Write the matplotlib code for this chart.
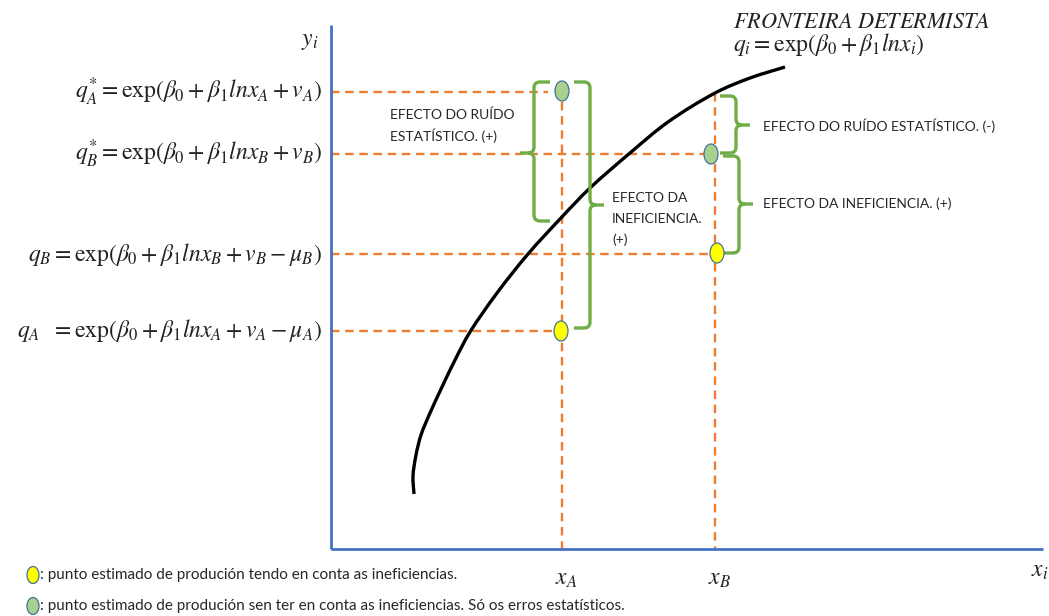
import math
import matplotlib
matplotlib.use('Agg')
import matplotlib.pyplot as plt
from matplotlib.patches import Ellipse, PathPatch
from matplotlib.path import Path

plt.rcParams['mathtext.fontset'] = 'stix'

W, H = 1049, 616

# Frontier curve (pixel coordinates, y downwards)
frontier_x = [414, 413, 416, 421, 430, 442, 455, 470, 497, 528, 560, 590, 630, 668, 715, 750, 785]
frontier_y = [494, 476, 455, 435, 413, 387, 360, 332, 293, 254, 219, 188, 153, 122, 93, 78, 67]

# Axes
origin_x, origin_y = 331, 549
axis_top, axis_right = 25, 1043

# Output levels (y) and their labels
level_labels = [r'$q_A^{*} = \exp(\beta_0 + \beta_1 lnx_A + v_A)$',
                r'$q_B^{*} = \exp(\beta_0 + \beta_1 lnx_B + v_B)$',
                r'$q_B = \exp(\beta_0 + \beta_1 lnx_B + v_B - \mu_B)$',
                r'$q_A\ \ = \exp(\beta_0 + \beta_1 lnx_A + v_A - \mu_A)$']
level_y = [92, 154, 254, 331]
level_line_end = [548, 704, 710, 554]

# Input positions
x_labels = [r'$x_A$', r'$x_B$']
x_pos = [562, 715]
x_line_top = [102, 93]

# Estimated points
green_x = [562, 711]
green_y = [91, 154]
yellow_x = [561, 717]
yellow_y = [331, 253]

# Braces: (x of spine, y top, y bottom, arm direction, tip y)
brace_x = [534, 590, 736, 739]
brace_top = [82, 82, 96, 156]
brace_bot = [221, 328, 153, 253]
brace_dir = [1, -1, -1, -1]
brace_tip = [153, 205, 125, 204]

# Brace annotations
brace_text = ['EFECTO DO RUÍDO\nESTATÍSTICO. (+)', 'EFECTO DA\nINEFICIENCIA.\n(+)',
              'EFECTO DO RUÍDO ESTATÍSTICO. (-)', 'EFECTO DA INEFICIENCIA. (+)']
brace_text_x = [390, 612, 763, 763]
brace_text_y = [115, 198, 126, 204]   # centre of first line

legend_texts = [': punto estimado de produción tendo en conta as ineficiencias.',
                ': punto estimado de produción sen ter en conta as ineficiencias. Só os erros estatísticos.']

ORANGE = '#ED7D31'
BLUE = '#4472C4'
GREEN = '#70AD47'
EDGE = '#41719C'
TXT = '#222222'

fig = plt.figure(figsize=(W / 100, H / 100), dpi=100)
ax = fig.add_axes([0, 0, 1, 1])
ax.set_xlim(0, W)
ax.set_ylim(H, 0)
ax.axis('off')

# axes lines
ax.plot([origin_x, origin_x], [axis_top, origin_y], color=BLUE, lw=2.0, solid_capstyle='butt', zorder=3)
ax.plot([origin_x, axis_right], [origin_y, origin_y], color=BLUE, lw=2.0, solid_capstyle='butt', zorder=3)

dash = (3.6, 2.4)
for y, xe in zip(level_y, level_line_end):
    ax.plot([origin_x, xe], [y, y], color=ORANGE, lw=1.7, dashes=dash, zorder=2)
for x, yt in zip(x_pos, x_line_top):
    ax.plot([x, x], [yt, origin_y], color=ORANGE, lw=1.7, dashes=dash, zorder=2)


# frontier drawn as a smooth Bezier path through the read points
def smooth_path(xs, ys):
    pts = list(zip(xs, ys))
    n = len(pts)

    def unit(a, b):
        dx, dy = b[0] - a[0], b[1] - a[1]
        L = math.hypot(dx, dy)
        return (dx / L, dy / L)

    tang = []
    for i in range(n):
        a = pts[i - 1] if i > 0 else pts[i]
        b = pts[i + 1] if i < n - 1 else pts[i]
        tang.append(unit(a, b))
    verts = [pts[0]]
    codes = [Path.MOVETO]
    for i in range(n - 1):
        p1, p2 = pts[i], pts[i + 1]
        d = math.hypot(p2[0] - p1[0], p2[1] - p1[1]) / 3
        c1 = (p1[0] + tang[i][0] * d, p1[1] + tang[i][1] * d)
        c2 = (p2[0] - tang[i + 1][0] * d, p2[1] - tang[i + 1][1] * d)
        verts += [c1, c2, p2]
        codes += [Path.CURVE4] * 3
    return Path(verts, codes)


ax.add_patch(PathPatch(smooth_path(frontier_x, frontier_y), fill=False, edgecolor='black',
                       lw=2.4, capstyle='butt', zorder=4))


def brace(xv, y0, y1, d, ym, arm=16, tip=14, r=6):
    verts = [(xv + arm * d, y0), (xv + r * d, y0), (xv, y0), (xv, y0 + r),
             (xv, ym - r), (xv, ym), (xv - r * d, ym), (xv - tip * d, ym),
             (xv - r * d, ym), (xv, ym), (xv, ym + r),
             (xv, y1 - r), (xv, y1), (xv + r * d, y1), (xv + arm * d, y1)]
    codes = [Path.MOVETO, Path.LINETO, Path.CURVE3, Path.CURVE3,
             Path.LINETO, Path.CURVE3, Path.CURVE3, Path.LINETO,
             Path.MOVETO, Path.CURVE3, Path.CURVE3,
             Path.LINETO, Path.CURVE3, Path.CURVE3, Path.LINETO]
    ax.add_patch(PathPatch(Path(verts, codes), fill=False, edgecolor=GREEN, lw=2.4,
                           capstyle='butt', joinstyle='round', zorder=5))


for bx, bt, bb, bd, tp in zip(brace_x, brace_top, brace_bot, brace_dir, brace_tip):
    brace(bx, bt, bb, bd, tp)

for gx, gy in zip(green_x, green_y):
    ax.add_patch(Ellipse((gx, gy), 14, 20, facecolor='#A9D18E', edgecolor=EDGE, lw=0.9, zorder=6))
for yx, yy in zip(yellow_x, yellow_y):
    ax.add_patch(Ellipse((yx, yy), 14, 20, facecolor='#FFFF00', edgecolor=EDGE, lw=0.9, zorder=6))

# level labels
for lab, y in zip(level_labels, level_y):
    ax.text(322, y, lab, ha='right', va='center', fontsize=17, color=TXT)

ax.text(318, 40, r'$y_i$', ha='right', va='center', fontsize=17, color=TXT)
for lab, x in zip(x_labels, x_pos):
    ax.text(x + 4, 578, lab, ha='center', va='center', fontsize=17, color=TXT)
ax.text(1040, 570, r'$x_i$', ha='center', va='center', fontsize=17, color=TXT)

ax.text(733, 22, r'$FRONTEIRA\ DETERMISTA$', ha='left', va='center', fontsize=16, color=TXT)
ax.text(733, 45, r'$q_i = \exp(\beta_0 + \beta_1 lnx_i)$', ha='left', va='center', fontsize=17, color=TXT)

line_step = 21
for t, tx, ty in zip(brace_text, brace_text_x, brace_text_y):
    for k, line in enumerate(t.split('\n')):
        ax.text(tx, ty + k * line_step, line, ha='left', va='center', fontsize=10,
                family='Lato', color='#262626')

# bottom legend
leg_y = [575, 606]
leg_col = ['#FFFF00', '#A9D18E']
for t, y, c in zip(legend_texts, leg_y, leg_col):
    ax.add_patch(Ellipse((33, y), 12, 17, facecolor=c, edgecolor=EDGE, lw=0.9, zorder=6))
    ax.text(40, y, t, ha='left', va='center', fontsize=11, family='Lato', color='#262626')

fig.savefig('out.png', dpi=100)
